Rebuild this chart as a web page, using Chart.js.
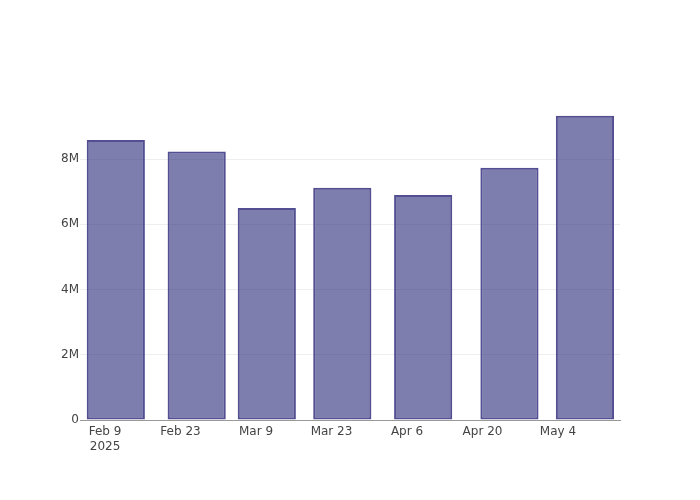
<!DOCTYPE html>
<html>
<head>
<meta charset="utf-8">
<script src="https://cdn.jsdelivr.net/npm/chart.js@4"></script>
<style>
	body { margin: 0; background: #fff; }
	#wrap { width: 700px; height: 500px; }
</style>
</head>
<body>
<div id="wrap"><canvas id="chart" width="700" height="500"></canvas></div>
<script>
'use strict';

// days counted from Feb 9 2025
const barDays = [2, 17, 30, 44, 59, 75, 89];
const barValues = [8.58e6, 8.23e6, 6.5e6, 7.12e6, 6.9e6, 7.73e6, 9.33e6];
const tickDays = [0, 14, 28, 42, 56, 70, 84];
const tickLabels = ['Feb 9', 'Feb 23', 'Mar 9', 'Mar 23', 'Apr 6', 'Apr 20', 'May 4'];
const yTicks = [0, 2e6, 4e6, 6e6, 8e6];

let points = barDays.map((d, i) => ({ x: d, y: barValues[i] }));

let config = {
	type: 'bar',
	data: {
		datasets: [
			{
				data: points,
				backgroundColor: 'rgba(40, 40, 120, 0.6)',
				borderColor: '#534f92',
				borderWidth: 2,
				borderSkipped: false,
				barPercentage: 0.83,
				categoryPercentage: 1.0
			}]
	},
	options: {
		responsive: false,
		animation: false,
		layout: {
			padding: { left: 0, right: 80, top: 100, bottom: 0 }
		},
		plugins: {
			legend: { display: false },
			tooltip: { enabled: false }
		},
		scales: {
			x: {
				type: 'linear',
				min: -4.64,
				max: 95.5,
				offset: false,
				grid: { display: false, drawTicks: false },
				border: { display: true, color: '#999', width: 1 },
				afterBuildTicks: (axis) => {
					axis.ticks = tickDays.map(v => ({ value: v }));
				},
				afterFit: (axis) => { axis.height = 80; },
				ticks: {
					autoSkip: false,
					maxRotation: 0,
					padding: 5,
					color: '#444',
					font: { family: 'DejaVu Sans', size: 12 },
					callback: (value) => {
						let i = tickDays.indexOf(value);
						if (i === 0) {
							return [tickLabels[0], '2025'];
						}
						return i >= 0 ? tickLabels[i] : '';
					}
				}
			},
			y: {
				min: 0,
				max: 9.81e6,
				grid: { color: '#eee', drawTicks: false },
				border: { display: false },
				afterBuildTicks: (axis) => {
					axis.ticks = yTicks.map(v => ({ value: v }));
				},
				afterFit: (axis) => { axis.width = 80; },
				ticks: {
					padding: 1,
					color: '#444',
					font: { family: 'DejaVu Sans', size: 12 },
					callback: (value) => value === 0 ? '0' : (value / 1e6) + 'M'
				}
			}
		}
	}
};

window.addEventListener('load', function() {
	let ctx = document.getElementById('chart').getContext('2d');
	const chart = new Chart(ctx, config);
}, false);
</script>
</body>
</html>
